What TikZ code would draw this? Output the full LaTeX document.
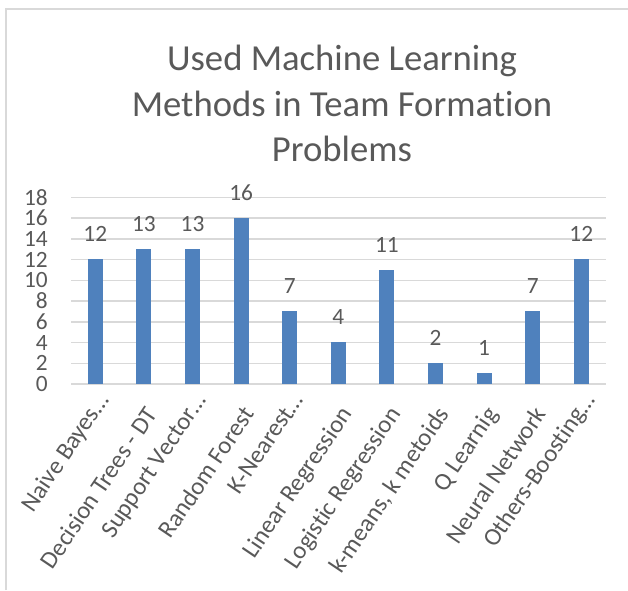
\documentclass[tikz,border=0pt]{standalone}
\usepackage{fontspec}
\setmainfont{Carlito}[Ligatures=NoCommon]
\usepackage{xcolor}
\usetikzlibrary{positioning}
\definecolor{barblue}{HTML}{4F81BD}
\definecolor{gridgray}{HTML}{D9D9D9}
\definecolor{textgray}{HTML}{595959}

\begin{document}
\begin{tikzpicture}[x=0.75pt,y=-0.75pt,
  axisfont/.style={font=\fontsize{17.5}{20}\selectfont, text=textgray, inner sep=0pt},
  ticklabel/.style={axisfont, anchor=east},
  vallabel/.style={axisfont},
  catlabel/.style={font=\fontsize{18.5}{21}\selectfont, text=textgray, inner sep=0pt,
    anchor=north east, rotate=56, text height=13pt, text depth=3pt},
  titleline/.style={font=\fontsize{27.5}{34}\selectfont, text=textgray, anchor=base, inner sep=0pt},
  bar/.style={fill=barblue, draw=none, anchor=south, minimum width=11.25pt, inner sep=0pt},
  grid line/.style={draw=gridgray, line width=1.1pt}]
  \useasboundingbox (0,0) rectangle (628,590);

  % Chart frame
  \draw[grid line] (6,590) -- (6,9) -- (628,9);

  % Title
  \node[titleline] (title1) at (342,70) {Used Machine Learning};
  \node[titleline] (title2) at (342,116) {Methods in Team Formation};
  \node[titleline] (title3) at (342,161) {Problems};

  % Gridlines and value axis
  \foreach \k in {0,...,9} {
    \draw[grid line] (71,384-20.74*\k) -- (606,384-20.74*\k);
    \pgfmathtruncatemacro{\tickval}{2*\k}
    \node[ticklabel] (tick\k) at (48,384-20.74*\k) {\tickval};
  }

  % Bars, values and categories
  \foreach \v/\name/\ly [count=\i] in {
      12/{Naive Bayes…}/390,
      13/{Decision Trees - DT}/404,
      13/{Support Vector…}/390,
      16/{Random Forest}/404,
      7/{K-Nearest…}/390,
      4/{Linear Regression}/404,
      11/{Logistic Regression}/404,
      2/{k-means, k metoids}/404,
      1/{Q Learnig}/404,
      7/{Neural Network}/404,
      12/{Others-Boosting…}/390} {
    \node[bar, minimum height=\v*7.78pt] (bar\i) at (71+48.6*\i-24.3,384) {};
    \node[vallabel, above=12.75pt of bar\i] (val\i) {\v};
    \node[catlabel] (cat\i) at (71+48.6*\i-24.3,\ly) {\name};
  }
\end{tikzpicture}
\end{document}
